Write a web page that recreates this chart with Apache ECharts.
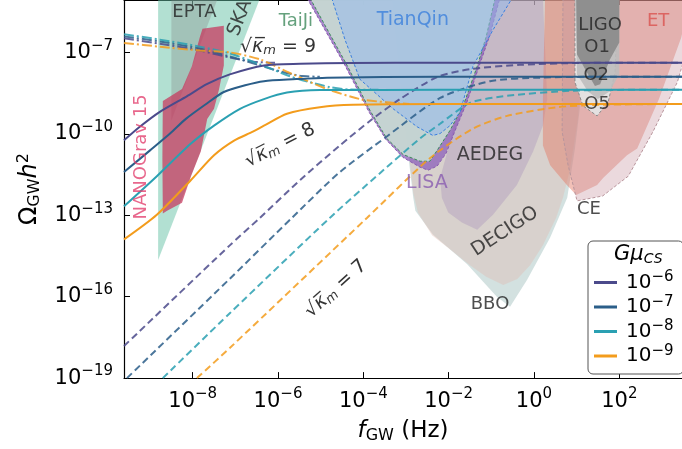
<!DOCTYPE html>
<html><head><meta charset="utf-8">
<script src="https://cdn.jsdelivr.net/npm/echarts@6/dist/echarts.min.js"></script>
<style>html,body{margin:0;padding:0;background:#fff}#c{width:682px;height:449px}</style>
</head><body><div id="c"></div>
<script>
// all values are log10: [log10 f_GW (Hz), log10 Omega_GW h^2]
const xRange = [-9.61, 3.47];
const yRange = [-19, -5.07];
const xTicks = [-8, -6, -4, -2, 0, 2];
const yTicks = [-19, -16, -13, -10, -7];
const gmuNames = ['g6', 'g7', 'g8', 'g9'];
const gmuExp = ['-6', '-7', '-8', '-9'];

// sqrt(kappa_m) = 8 (solid)
const solid6 = [[-9.61,-10.24],[-9.24,-9.74],[-8.77,-9.19],[-8.13,-8.61],[-7.67,-8.17],[-7.13,-7.81],[-6.33,-7.48],[-5.48,-7.42],[-4.31,-7.39],[-2.2,-7.38],[3.47,-7.38]];
const solid7 = [[-9.61,-11.41],[-9.0,-10.61],[-8.53,-9.99],[-8.16,-9.45],[-7.71,-8.93],[-7.27,-8.46],[-6.77,-8.21],[-6.33,-8.06],[-5.65,-7.99],[-4.85,-7.93],[-2.2,-7.9],[3.47,-7.9]];
const solid8 = [[-9.61,-12.67],[-8.84,-11.56],[-8.04,-10.36],[-7.5,-9.7],[-6.89,-9.08],[-6.33,-8.72],[-5.79,-8.48],[-5.02,-8.39],[-2.2,-8.38],[3.47,-8.38]];
const solid9 = [[-9.61,-13.89],[-8.84,-12.98],[-8.04,-11.7],[-7.5,-10.79],[-7.03,-10.25],[-6.59,-9.92],[-6.33,-9.7],[-5.79,-9.26],[-5.02,-9.02],[-4.24,-8.93],[-2.2,-8.9],[3.47,-8.9]];
// sqrt(kappa_m) = 9 (dash-dot)
const dd6 = [[-9.61,-6.48],[-8.77,-6.68],[-7.83,-6.93],[-7.13,-7.19],[-6.54,-7.35],[-6.07,-7.38]];
const dd7 = [[-9.61,-6.41],[-8.77,-6.6],[-7.83,-6.86],[-7.13,-7.15],[-6.42,-7.48],[-5.95,-7.7],[-5.48,-7.86],[-5.02,-7.9]];
const dd8 = [[-9.61,-6.33],[-8.77,-6.53],[-7.83,-6.79],[-7.13,-7.04],[-6.42,-7.44],[-5.72,-7.88],[-5.25,-8.1],[-4.78,-8.28],[-4.31,-8.37],[-3.61,-8.38]];
const dd9 = [[-9.61,-6.65],[-8.77,-6.79],[-7.83,-6.93],[-7.13,-7.0],[-6.42,-7.26],[-5.65,-7.81],[-4.85,-8.35],[-4.08,-8.72],[-3.45,-8.84],[-2.92,-8.9]];
// sqrt(kappa_m) = 7 (dashed)
const dash6 = [[-9.61,-17.82],[-7.13,-14.11],[-6.42,-13.09],[-5.48,-11.7],[-4.55,-10.43],[-3.84,-9.52],[-3.14,-8.72],[-2.27,-7.91],[-1.5,-7.62],[-0.33,-7.46],[1.08,-7.39],[3.47,-7.38]];
const dash7 = [[-9.54,-19],[-7.13,-15.34],[-5.67,-13.09],[-4.55,-11.41],[-3.45,-10.1],[-2.2,-8.68],[-1.03,-8.06],[0.14,-7.93],[1.55,-7.9],[3.47,-7.9]];
const dash8 = [[-8.7,-19],[-7.13,-16.61],[-4.78,-13.09],[-3.61,-11.45],[-2.67,-10.17],[-2.2,-9.63],[-1.5,-8.86],[-0.63,-8.6],[0.92,-8.41],[2.49,-8.38],[3.47,-8.38]];
const dash9 = [[-7.9,-19],[-7.13,-17.89],[-3.91,-13.09],[-2.44,-10.9],[-1.43,-9.81],[-0.63,-9.34],[0.54,-9.02],[1.55,-8.93],[3.47,-8.9]];

// detector / PTA regions
const ska = [[-8.81,-5.0],[-8.81,-14.65],[-6.42,-5.0]];
const epta = [[-8.5,-5.0],[-7.41,-5.0],[-8.5,-9.51]];
const nanograv = [[-7.77,-6.13],[-7.27,-6.02],[-7.27,-7.48],[-7.38,-8.35],[-7.5,-9.08],[-7.66,-9.45],[-7.81,-10.65],[-8.04,-11.56],[-8.25,-12.54],[-8.6,-12.83],[-8.7,-12.94],[-8.71,-10.9],[-8.7,-8.79],[-8.25,-8.35],[-8.02,-7.51],[-7.83,-6.42]];
const taiji = [[-5.25,-5.0],[-4.38,-7.48],[-3.84,-9.15],[-3.45,-10.17],[-3.07,-10.76],[-2.67,-11.01],[-2.44,-11.01],[-2.27,-10.61],[-1.97,-9.88],[-1.66,-8.97],[-1.33,-7.51],[-1.12,-6.42],[-0.91,-5.0]];
const lisa = [[-5.32,-5.0],[-4.43,-7.48],[-3.87,-9.19],[-3.47,-10.21],[-3.07,-10.87],[-2.67,-11.23],[-2.48,-11.34],[-2.27,-11.19],[-2.06,-10.72],[-1.83,-9.81],[-1.57,-8.83],[-1.31,-7.62],[-1.03,-6.35],[-0.8,-5.0]];
const tianqin = [[-4.74,-5.0],[-4.43,-6.53],[-4.08,-7.99],[-3.3,-9.08],[-2.74,-9.74],[-2.37,-10.06],[-2.2,-9.99],[-1.97,-9.7],[-1.73,-9.19],[-1.43,-7.51],[-0.96,-6.17],[-0.51,-5.0]];
const aedeg = [[-1.31,-5.0],[-1.5,-7.26],[-1.78,-9.08],[-2.01,-10.54],[-2.2,-11.63],[-2.16,-12.36],[-2.01,-12.9],[-1.69,-13.27],[-1.33,-13.53],[-0.96,-12.98],[-0.4,-11.89],[-0.02,-10.65],[0.21,-9.7],[0.31,-8.72],[0.26,-6.89],[0.21,-5.0]];
const decigo = [[-3.26,-5.0],[-3.02,-9.45],[-2.83,-12.18],[-2.72,-12.9],[-2.39,-13.74],[-1.97,-14.25],[-1.5,-14.84],[-1.12,-15.27],[-0.72,-15.57],[-0.39,-15.35],[-0.09,-14.84],[0.21,-14.11],[0.52,-13.09],[0.68,-12.36],[0.85,-11.27],[1.03,-9.45],[1.15,-7.26],[1.2,-5.0]];
const bbo = [[-3.33,-5.0],[-3.19,-7.26],[-3.02,-9.81],[-2.83,-12.35],[-2.78,-12.83],[-2.37,-13.71],[-1.57,-14.8],[-0.87,-16.0],[-0.56,-16.37],[-0.16,-15.38],[0.38,-13.82],[0.78,-12.36],[0.96,-10.54],[1.13,-8.35],[1.22,-5.0]];
const et = [[0.26,-5.0],[0.21,-8.72],[0.21,-10.43],[0.38,-11.16],[0.77,-11.89],[0.99,-12.25],[1.48,-11.89],[1.62,-11.63],[2.18,-10.79],[2.42,-10.54],[2.93,-8.72],[3.45,-6.46],[3.66,-5.0]];
const ce = [[0.68,-5.0],[0.66,-9.92],[0.8,-11.16],[1.01,-12.47],[1.61,-12.29],[2.21,-11.56],[2.79,-9.92],[3.36,-8.1],[3.47,-7.51],[3.7,-6.5],[3.7,-5.0]];
const ligoO5 = [[0.96,-5.0],[0.96,-8.1],[1.15,-8.97],[1.48,-9.34],[1.74,-8.83],[1.9,-7.73],[1.97,-5.0]];
const ligoO2 = [[0.96,-5.0],[1.01,-7.81],[1.26,-8.43],[1.5,-8.72],[1.78,-8.43],[2.0,-7.81],[2.0,-5.0]];
const ligoO1 = [[0.99,-5.0],[1.01,-7.08],[1.2,-7.62],[1.43,-8.24],[1.55,-8.17],[1.78,-7.26],[2.0,-6.64],[2.0,-5.0]];

// text annotations
const annText = ['EPTA','SKA','NANOGrav 15','TaiJi','TianQin','LISA','AEDEG','DECIGO','BBO','CE','LIGO','O1','O2','O5','ET','k9','k8','k7'];
const annPos = [[-7.96,-5.51],[-6.89,-5.73],[-9.2,-10.85],[-5.58,-5.84],[-2.84,-5.82],[-2.51,-11.81],[-1.03,-10.79],[-0.68,-13.6],[-1.03,-16.29],[1.29,-12.8],[1.55,-6.02],[1.48,-6.82],[1.46,-7.84],[1.48,-8.9],[2.91,-5.87],[-6.0,-6.79],[-5.95,-10.43],[-4.64,-15.71]];

const FONT = 'DejaVu Sans';
const COLORS = ['#4b4a8b', '#2b5e89', '#2aa0b2', '#f39c1c'];

function poly(pts, fill, stroke, dash, z, smooth) {
  return {
    type: 'custom', coordinateSystem: 'cartesian2d', clip: true, silent: true, z: z,
    data: [pts[0]],
    renderItem: function (params, api) {
      return {
        type: 'polygon',
        shape: { points: pts.map(p => api.coord(p)), smooth: smooth || 0 },
        style: { fill: fill, stroke: stroke || 'none', lineWidth: stroke ? 1 : 0, lineDash: dash || null }
      };
    }
  };
}
function line(name, data, color, type, width, opacity, z) {
  return {
    type: 'line', name: name, data: data, showSymbol: false, symbol: 'none', smooth: 0.25,
    clip: true, silent: true, z: z, color: color,
    lineStyle: { color: color, width: width, type: type, opacity: opacity }
  };
}
function sup(v) { return '{b|10}{s|' + (v < 0 ? '\u2212' : '') + Math.abs(Math.round(v)) + '}'; }
const tickRich = {
  b: { fontFamily: FONT, fontSize: 21, color: '#000', lineHeight: 26 },
  s: { fontFamily: FONT, fontSize: 15, color: '#000', padding: [0, 0, 13, 0], lineHeight: 26 }
};

const series = [];
series.push(poly(bbo, 'rgba(150,184,180,0.42)', null, null, 1));
series.push(poly(decigo, 'rgba(224,188,178,0.42)', null, null, 2));
series.push(poly(aedeg, 'rgba(165,145,185,0.36)', null, null, 3));
series.push(poly(lisa, 'rgba(140,95,185,0.75)', '#8a5cb0', [3, 2], 4));
series.push(poly(taiji, 'rgba(198,214,210,0.96)', '#3c8c5a', [3, 2], 5));
series.push(poly(tianqin, 'rgba(150,185,235,0.55)', '#3a7fe0', [3, 2], 6));
series.push(poly(et, 'rgba(228,122,102,0.47)', null, null, 7));
series.push(poly(ce, 'rgba(200,150,160,0.36)', '#b8959c', [3, 2], 8));
series.push(poly(ligoO5, 'rgba(228,228,228,0.95)', '#8c8c8c', [3, 2], 9));
series.push(poly(ligoO2, 'rgba(190,190,190,0.9)', null, null, 10));
series.push(poly(ligoO1, 'rgba(140,140,140,0.95)', null, null, 11));
series.push(poly(ska, 'rgba(102,194,165,0.5)', null, null, 12));
series.push(poly(epta, 'rgba(130,130,130,0.32)', null, null, 13));
series.push(poly(nanograv, 'rgba(200,52,92,0.72)', null, null, 14));

const dashes = [dash6, dash7, dash8, dash9];
const dds = [dd6, dd7, dd8, dd9];
const solids = [solid6, solid7, solid8, solid9];
for (let i = 0; i < 4; i++) series.push(line('d' + i, dashes[i], COLORS[i], [7, 4], 2, 0.85, 20));
for (let i = 0; i < 4; i++) series.push(line('dd' + i, dds[i], COLORS[i], [10, 3, 2, 3], 2, 0.85, 21));
for (let i = 0; i < 4; i++) series.push(line(gmuNames[i], solids[i], COLORS[i], 'solid', 2, 1, 22));

// annotation styles
const annStyle = {
  'EPTA': { color: '#222', size: 18, rot: 0 },
  'SKA': { color: '#222', size: 19, rot: 69 },
  'NANOGrav 15': { color: '#e2416f', size: 18, rot: 90 },
  'TaiJi': { color: '#3f8a5c', size: 18, rot: 0 },
  'TianQin': { color: '#3b80dc', size: 19, rot: 0 },
  'LISA': { color: '#8a5cb0', size: 19, rot: 0 },
  'AEDEG': { color: '#222', size: 19, rot: 0 },
  'DECIGO': { color: '#222', size: 19, rot: 33 },
  'BBO': { color: '#222', size: 18, rot: 0 },
  'CE': { color: '#222', size: 18, rot: 0 },
  'LIGO': { color: '#222', size: 18, rot: 0 },
  'O1': { color: '#222', size: 18, rot: 0 },
  'O2': { color: '#222', size: 18, rot: 0 },
  'O5': { color: '#222', size: 18, rot: 0 },
  'ET': { color: '#d9534f', size: 18, rot: 0 },
  'k9': { color: '#000', size: 19, rot: 0, k: '9' },
  'k8': { color: '#000', size: 19, rot: 27, k: '8' },
  'k7': { color: '#000', size: 19, rot: 42, k: '7' }
};
const annData = annText.map((t, i) => {
  const st = annStyle[t];
  const txt = st.k ? '{r|\u221A}{k|\u03BA\u0305}{m|m}{r| = ' + st.k + '}' : t;
  return {
    value: annPos[i],
    label: {
      show: true, position: 'inside', formatter: txt, rotate: st.rot, color: st.color,
      fontFamily: FONT, fontSize: st.size,
      rich: {
        r: { fontFamily: FONT, fontSize: st.size, color: st.color },
        k: { fontFamily: FONT, fontSize: st.size, color: st.color, fontStyle: 'italic' },
        m: { fontFamily: FONT, fontSize: 13, color: st.color, fontStyle: 'italic', padding: [8, 0, 0, 0] }
      }
    }
  };
});
series.push({ type: 'scatter', data: annData, symbolSize: 0, silent: true, z: 30, clip: false });

const chart = echarts.init(document.getElementById('c'));
chart.setOption({
  animation: false,
  backgroundColor: '#fff',
  grid: { left: 124, right: 0, top: 0, bottom: 67, containLabel: false },
  xAxis: [{
    type: 'value', min: xRange[0], max: xRange[1], position: 'bottom',
    axisLine: { show: true, onZero: false, lineStyle: { color: '#000', width: 1.2 } },
    axisTick: { show: true, inside: true, length: 6, customValues: xTicks, lineStyle: { color: '#000', width: 1 } },
    axisLabel: { customValues: xTicks, formatter: sup, margin: 10, rich: tickRich },
    splitLine: { show: false },
    name: '{f|f}{sub|GW}{n| (Hz)}', nameLocation: 'middle', nameGap: 36,
    nameTextStyle: { rich: {
      f: { fontFamily: FONT, fontSize: 23, fontStyle: 'italic', color: '#000' },
      sub: { fontFamily: FONT, fontSize: 16, color: '#000', padding: [9, 0, 0, 0] },
      n: { fontFamily: FONT, fontSize: 23, color: '#000' } } }
  }, {
    type: 'value', min: xRange[0], max: xRange[1], position: 'top',
    axisLine: { show: true, onZero: false, lineStyle: { color: '#000', width: 1 } },
    axisTick: { show: true, inside: true, length: 5, customValues: xTicks, lineStyle: { color: '#000' } },
    axisLabel: { show: false }, splitLine: { show: false }
  }],
  yAxis: [{
    type: 'value', min: yRange[0], max: yRange[1],
    axisLine: { show: true, onZero: false, lineStyle: { color: '#000', width: 1.2 } },
    axisTick: { show: true, inside: true, length: 6, customValues: yTicks, lineStyle: { color: '#000' } },
    axisLabel: { customValues: yTicks, formatter: sup, margin: 11, rich: tickRich },
    splitLine: { show: false },
    name: '{o|\u03A9}{sub|GW}{h|h}{s|2}', nameLocation: 'middle', nameRotate: 90, nameGap: 80,
    nameTextStyle: { rich: {
      o: { fontFamily: FONT, fontSize: 24, color: '#000' },
      sub: { fontFamily: FONT, fontSize: 16, color: '#000', padding: [10, 0, 0, 0] },
      h: { fontFamily: FONT, fontSize: 24, fontStyle: 'italic', color: '#000' },
      s: { fontFamily: FONT, fontSize: 16, color: '#000', padding: [0, 0, 12, 0] } } }
  }],
  legend: {
    data: gmuNames, orient: 'vertical', left: 588, top: 241,
    padding: [29, 10, 8, 6], itemGap: 2, itemWidth: 23, itemHeight: 3, icon: 'rect',
    backgroundColor: '#fff', borderColor: '#555', borderWidth: 1, borderRadius: 5,
    formatter: function (n) { return '{b|10}{s|\u2212' + gmuExp[gmuNames.indexOf(n)].slice(1) + '}'; },
    textStyle: { rich: {
      b: { fontFamily: FONT, fontSize: 20, color: '#000', lineHeight: 22, padding: [0, 0, 0, 4] },
      s: { fontFamily: FONT, fontSize: 15, color: '#000', padding: [0, 0, 10, 0] } } }
  },
  graphic: [{
    type: 'text', left: 614, top: 244, z: 100,
    style: { text: '{g|G\u03BC}{c|CS}', rich: {
      g: { fontFamily: FONT, fontSize: 21, fontStyle: 'italic', fill: '#000' },
      c: { fontFamily: FONT, fontSize: 14, fontStyle: 'italic', fill: '#000', padding: [9, 0, 0, 0] } } }
  }],
  series: series
});
</script></body></html>
